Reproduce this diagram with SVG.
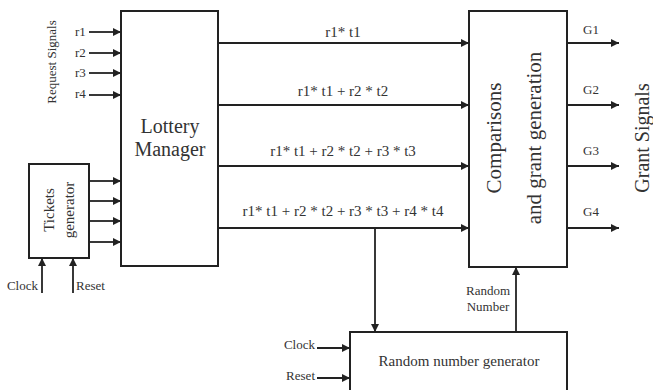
<svg xmlns="http://www.w3.org/2000/svg" width="653" height="390" viewBox="0 0 653 390">
<style>
.box{fill:#fff;stroke:#222;stroke-width:2}
.ln{fill:none;stroke:#222;stroke-width:1.8}
text{font-family:'Liberation Serif','DejaVu Serif',serif;fill:#333}
.s13{font-size:13px}
.s15{font-size:15px}
.s20{font-size:20px}
.s21{font-size:21px}
</style>
<defs>
<marker id="ah" viewBox="0 0 10 10" refX="10" refY="5" markerWidth="4.5" markerHeight="4.5" orient="auto" markerUnits="strokeWidth">
<path d="M0,0 L10,5 L0,10 z" fill="#222"/>
</marker>
</defs>
<rect width="653" height="390" fill="#fff"/>

<g id="lottery-manager">
<rect class="box" x="121" y="11" width="97" height="255"/>
<text class="s20" x="170" y="133" text-anchor="middle">Lottery</text>
<text class="s20" x="170" y="156" text-anchor="middle">Manager</text>
</g>

<g id="tickets-generator">
<rect class="box" x="29" y="164" width="60" height="94"/>
<text class="s15" transform="translate(54,210) rotate(-90)" text-anchor="middle">Tickets</text>
<text class="s15" transform="translate(74,210) rotate(-90)" text-anchor="middle">generator</text>
</g>

<g id="comparisons">
<rect class="box" x="469" y="11" width="98" height="256"/>
<text class="s21" transform="translate(501,138) rotate(-90)" text-anchor="middle">Comparisons</text>
<text class="s21" transform="translate(541,138) rotate(-90)" text-anchor="middle">and grant generation</text>
</g>

<g id="random-number-generator">
<rect class="box" x="350" y="332" width="217" height="70"/>
<text class="s15" x="459" y="366" text-anchor="middle">Random number generator</text>
</g>

<g id="labels">
<text class="s13" transform="translate(56,62) rotate(-90)" text-anchor="middle">Request Signals</text>
<text class="s13" x="75" y="36">r1</text>
<text class="s13" x="75" y="57">r2</text>
<text class="s13" x="75" y="77">r3</text>
<text class="s13" x="75" y="98">r4</text>
<text class="s13" x="38" y="290" text-anchor="end">Clock</text>
<text class="s13" x="76" y="290">Reset</text>
<text class="s15" x="343" y="37" text-anchor="middle">r1* t1</text>
<text class="s15" x="343" y="96" text-anchor="middle">r1* t1 + r2 * t2</text>
<text class="s15" x="343" y="156" text-anchor="middle">r1* t1 + r2 * t2 + r3 * t3</text>
<text class="s15" x="343" y="216" text-anchor="middle">r1* t1 + r2 * t2 + r3 * t3 + r4 * t4</text>
<text class="s13" x="583" y="34">G1</text>
<text class="s13" x="583" y="94">G2</text>
<text class="s13" x="583" y="155">G3</text>
<text class="s13" x="583" y="216">G4</text>
<text class="s20" transform="translate(649,138) rotate(-90)" text-anchor="middle">Grant Signals</text>
<text class="s13" x="488" y="295" text-anchor="middle">Random</text>
<text class="s13" x="488" y="311" text-anchor="middle">Number</text>
<text class="s13" x="315" y="349" text-anchor="end">Clock</text>
<text class="s13" x="315" y="380" text-anchor="end">Reset</text>
</g>

<g id="connectors">
<line class="ln" x1="89" y1="32" x2="121" y2="32" marker-end="url(#ah)"/>
<line class="ln" x1="89" y1="53" x2="121" y2="53" marker-end="url(#ah)"/>
<line class="ln" x1="89" y1="73" x2="121" y2="73" marker-end="url(#ah)"/>
<line class="ln" x1="89" y1="95" x2="121" y2="95" marker-end="url(#ah)"/>
<line class="ln" x1="89" y1="181" x2="121" y2="181" marker-end="url(#ah)"/>
<line class="ln" x1="89" y1="201" x2="121" y2="201" marker-end="url(#ah)"/>
<line class="ln" x1="89" y1="221" x2="121" y2="221" marker-end="url(#ah)"/>
<line class="ln" x1="89" y1="242" x2="121" y2="242" marker-end="url(#ah)"/>
<line class="ln" x1="42" y1="293" x2="42" y2="258" marker-end="url(#ah)"/>
<line class="ln" x1="73" y1="293" x2="73" y2="258" marker-end="url(#ah)"/>
<line class="ln" x1="218" y1="43" x2="469" y2="43" marker-end="url(#ah)"/>
<line class="ln" x1="218" y1="105" x2="469" y2="105" marker-end="url(#ah)"/>
<line class="ln" x1="218" y1="166" x2="469" y2="166" marker-end="url(#ah)"/>
<line class="ln" x1="218" y1="228" x2="469" y2="228" marker-end="url(#ah)"/>
<line class="ln" x1="375" y1="228" x2="375" y2="332" marker-end="url(#ah)"/>
<line class="ln" x1="516" y1="332" x2="516" y2="267" marker-end="url(#ah)"/>
<line class="ln" x1="567" y1="43" x2="619" y2="43" marker-end="url(#ah)"/>
<line class="ln" x1="567" y1="105" x2="619" y2="105" marker-end="url(#ah)"/>
<line class="ln" x1="567" y1="166" x2="619" y2="166" marker-end="url(#ah)"/>
<line class="ln" x1="567" y1="228" x2="619" y2="228" marker-end="url(#ah)"/>
<line class="ln" x1="317" y1="348" x2="350" y2="348" marker-end="url(#ah)"/>
<line class="ln" x1="317" y1="378" x2="350" y2="378" marker-end="url(#ah)"/>
</g>
</svg>
